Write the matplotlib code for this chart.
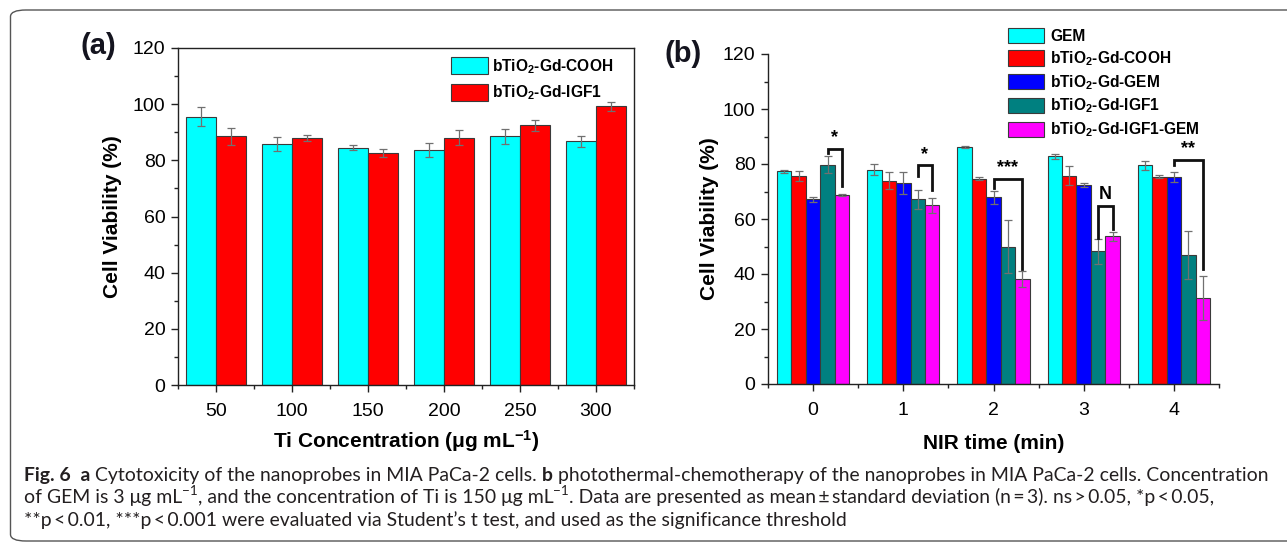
import matplotlib
matplotlib.use('Agg')
import matplotlib.pyplot as plt
from matplotlib.patches import FancyBboxPatch
import numpy as np

# panel (a): cytotoxicity vs Ti concentration
conc_labels = ['50', '100', '150', '200', '250', '300']
cooh_mean = [95.6, 85.9, 84.5, 83.7, 88.6, 86.8]
cooh_err = [3.4, 2.4, 0.9, 2.5, 2.7, 2.0]
igf1_mean = [88.5, 87.9, 82.6, 88.1, 92.5, 99.3]
igf1_err = [3.0, 1.0, 1.5, 2.8, 2.0, 1.6]

# panel (b): viability vs NIR time
nir_labels = ['0', '1', '2', '3', '4']
gem_mean = [77.3, 77.9, 86.3, 82.8, 79.5]
gem_err = [0.6, 2.0, 0.4, 0.8, 1.6]
cooh_b_mean = [75.8, 74.0, 74.7, 75.8, 75.4]
cooh_b_err = [1.8, 3.1, 0.4, 3.5, 0.5]
gdgem_mean = [67.1, 73.1, 67.9, 72.3, 75.4]
gdgem_err = [0.8, 4.0, 2.3, 0.8, 1.8]
igf1_b_mean = [79.8, 67.1, 50.0, 48.2, 46.9]
igf1_b_err = [3.0, 3.4, 9.8, 4.6, 8.6]
igfgem_mean = [68.8, 65.0, 38.1, 53.7, 31.2]
igfgem_err = [0.3, 2.7, 2.9, 1.6, 8.0]

# significance brackets: group, left bar, right bar, top, leg ends, label
sig_group = [0, 1, 2, 3, 4]
sig_left_bar = [3, 3, 2, 3, 2]
sig_right_bar = [4, 4, 4, 4, 4]
sig_top = [85.4, 79.5, 74.7, 64.9, 81.6]
sig_left_end = [84.0, 75.5, 71.3, 53.2, 79.8]
sig_right_end = [71.9, 70.7, 41.7, 56.2, 41.7]
sig_label = ['*', '*', '***', 'N', '**']

W, H = 1287, 548
plt.rcParams['font.family'] = ['Liberation Sans', 'DejaVu Sans']
plt.rcParams['mathtext.fontset'] = 'custom'
plt.rcParams['mathtext.rm'] = 'Liberation Sans'
plt.rcParams['mathtext.bf'] = 'Liberation Sans:bold'
plt.rcParams['mathtext.it'] = 'Liberation Sans:italic'

fig = plt.figure(figsize=(W / 100, H / 100), dpi=100)


def px_axes(l, t, r, b):
    return fig.add_axes([l / W, 1 - b / H, (r - l) / W, (b - t) / H])


def style_axes(ax, ncat, box):
    ax.set_xlim(-0.5, ncat - 0.5)
    ax.set_ylim(0, 120)
    ax.set_yticks(np.arange(0, 121, 20))
    ax.set_yticks(np.arange(10, 120, 20), minor=True)
    ax.set_xticks(np.arange(-0.5, ncat, 1.0), minor=True)
    ax.tick_params(which='both', direction='out', top=False, right=False, width=1.0, color='#222222')
    ax.tick_params(which='major', length=5, labelsize=14, pad=4)
    ax.tick_params(axis='x', which='major', pad=8)
    ax.tick_params(which='minor', length=3)
    for s in ax.spines.values():
        s.set_linewidth(1.0)
        s.set_color('#222222')
    if not box:
        ax.spines['top'].set_visible(False)
        ax.spines['right'].set_visible(False)


edge = dict(edgecolor='#3a3a3a', linewidth=0.8)
errkw = dict(ecolor='#707070', elinewidth=0.9, capsize=3, capthick=0.9)

# ---- (a)
axa = px_axes(178, 48, 634, 385)
xa = np.arange(len(conc_labels))
wa = 0.4
axa.bar(xa - wa / 2, cooh_mean, wa, yerr=cooh_err, color='#00FFFF', error_kw=errkw,
        label=r'bTiO$_\mathbf{2}$-Gd-COOH', **edge)
axa.bar(xa + wa / 2, igf1_mean, wa, yerr=igf1_err, color='#FF0000', error_kw=errkw,
        label=r'bTiO$_\mathbf{2}$-Gd-IGF1', **edge)
style_axes(axa, len(conc_labels), True)
axa.set_xticks(xa)
axa.set_xticklabels(conc_labels)
axa.set_ylabel('Cell Viability (%)', fontsize=15, fontweight='bold', labelpad=8)
axa.set_xlabel(r'Ti Concentration (μg mL$^{\mathbf{-1}}$)', fontsize=15, fontweight='bold', labelpad=6)
axa.legend(loc='upper left', bbox_to_anchor=(451 / W, 1 - 57 / H), bbox_transform=fig.transFigure,
           frameon=False, prop={'weight': 'bold', 'size': 11.2},
           handlelength=2.35, handleheight=1.3, labelspacing=0.5, handletextpad=0.3,
           borderpad=0, borderaxespad=0)
fig.text(80 / W, 1 - 46 / H, '(a)', fontsize=21, fontweight='bold', color='#14141f', va='center')

# ---- (b)
axb = px_axes(768, 54, 1219, 384)
xb = np.arange(len(nir_labels))
wb = 0.16
series_b = [
    (gem_mean, gem_err, '#00FFFF', 'GEM'),
    (cooh_b_mean, cooh_b_err, '#FF0000', r'bTiO$_\mathbf{2}$-Gd-COOH'),
    (gdgem_mean, gdgem_err, '#0000FF', r'bTiO$_\mathbf{2}$-Gd-GEM'),
    (igf1_b_mean, igf1_b_err, '#008080', r'bTiO$_\mathbf{2}$-Gd-IGF1'),
    (igfgem_mean, igfgem_err, '#FF00FF', r'bTiO$_\mathbf{2}$-Gd-IGF1-GEM'),
]
offsets = (np.arange(5) - 2) * wb
for k, (m, e, c, lab) in enumerate(series_b):
    axb.bar(xb + offsets[k], m, wb, yerr=e, color=c, error_kw=errkw, label=lab, **edge)
style_axes(axb, len(nir_labels), False)
axb.set_xticks(xb)
axb.set_xticklabels(nir_labels)
axb.set_ylabel('Cell Viability (%)', fontsize=15, fontweight='bold', labelpad=3)
axb.set_xlabel('NIR time (min)', fontsize=15, fontweight='bold', labelpad=11)
axb.legend(loc='upper left', bbox_to_anchor=(1008 / W, 1 - 28 / H), bbox_transform=fig.transFigure,
           frameon=False, prop={'weight': 'bold', 'size': 11.2},
           handlelength=2.3, handleheight=1.15, labelspacing=0.33, handletextpad=0.4,
           borderpad=0, borderaxespad=0)
fig.text(665 / W, 1 - 54 / H, '(b)', fontsize=21, fontweight='bold', color='#14141f', va='center')

for g, lb, rb, top, le, re, lab in zip(sig_group, sig_left_bar, sig_right_bar, sig_top,
                                        sig_left_end, sig_right_end, sig_label):
    x0 = g + offsets[lb]
    x1 = g + offsets[rb]
    axb.plot([x0, x0, x1, x1], [le, top, top, re], color='#111111', lw=2.0,
             solid_joinstyle='miter', clip_on=False)
    axb.text((x0 + x1) / 2, top + 1.0, lab, ha='center', va='bottom', fontsize=13,
             fontweight='bold')

# ---- frame and caption
frame = FancyBboxPatch((10.5 / W, 7 / H), 1.05, (541 - 10) / H, transform=fig.transFigure,
                       boxstyle='round,pad=0,rounding_size=0.012', fill=False,
                       edgecolor='#555555', linewidth=1.0)
fig.patches.append(frame)

cap_font = ['Lato', 'DejaVu Sans']
cap_lines = [
    [('Fig. 6', 'bold', False), ('  a', 'bold', False),
     (' Cytotoxicity of the nanoprobes in MIA PaCa-2 cells. ', 'normal', False),
     ('b', 'bold', False),
     (' photothermal-chemotherapy of the nanoprobes in MIA PaCa-2 cells. Concentration', 'normal', False)],
    [('of GEM is 3 μg mL', 'normal', False), ('−1', 'normal', True),
     (', and the concentration of Ti is 150 μg mL', 'normal', False), ('−1', 'normal', True),
     ('. Data are presented as mean\u2009±\u2009standard deviation (n\u2009=\u20093). ns\u2009>\u20090.05, *p\u2009<\u20090.05,',
      'normal', False)],
    [('**p\u2009<\u20090.01, ***p\u2009<\u20090.001 were evaluated via Student’s t test, and used as the significance threshold',
      'normal', False)],
]
cap_base = [481, 503.5, 526]

renderer = fig.canvas.get_renderer()


def draw_line(runs, y, size, x0=24):
    x = x0
    for txt, wt, sup in runs:
        s = size * 0.7 if sup else size
        yy = y - (size * 0.45 * 100 / 72 if sup else 0)
        t = fig.text(x / W, 1 - yy / H, txt, fontsize=s, fontweight=wt, family=cap_font,
                     va='baseline', ha='left', color='#231f20')
        bb = t.get_window_extent(renderer)
        x += bb.width
    return x


# fit the caption size so the first line spans the frame
trial = draw_line(cap_lines[0], -100, 10)
for t in list(fig.texts):
    if t.get_position()[1] > 1:
        t.remove()
cap_size = 10 * (1265 - 24) / (trial - 24)
for runs, yb in zip(cap_lines, cap_base):
    draw_line(runs, yb, cap_size)

fig.savefig('out.png', dpi=100)
